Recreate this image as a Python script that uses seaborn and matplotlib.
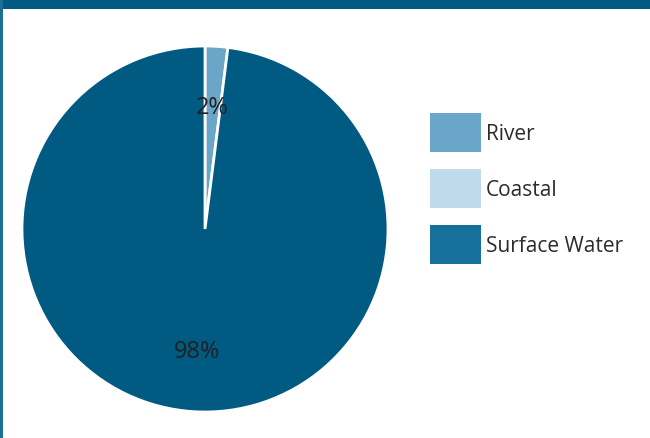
import matplotlib
matplotlib.use("Agg")
import matplotlib.pyplot as plt
from matplotlib.patches import Patch, Rectangle
import seaborn as sns

# Share of sites by water type
categories = ["River", "Coastal", "Surface Water"]
shares = [2, 0, 98]
pie_colors = ["#6aa6c7", "#bfdaea", "#005a82"]
legend_colors = ["#6aa6c7", "#bfdaea", "#17709c"]

sns.set_theme(style="white")
plt.rcParams["font.family"] = ["Open Sans", "DejaVu Sans"]

fig = plt.figure(figsize=(6.5, 4.39), dpi=100)
fig.patch.set_facecolor("white")

# Header band and left frame line
fig.add_artist(Rectangle((0, 1 - 10 / 439), 1, 10 / 439, transform=fig.transFigure,
                         facecolor="#005a82", edgecolor="none"))
fig.add_artist(Rectangle((0, 0), 2.5 / 650, 1, transform=fig.transFigure,
                         facecolor="#1a6e98", edgecolor="none"))

ax = fig.add_axes([22 / 650, 1 - 413 / 439, 366 / 650, 366 / 439])

# Only wedges with a non-zero share are drawn
vals = [v for v in shares if v > 0]
cols = [c for v, c in zip(shares, pie_colors) if v > 0]
wedges, texts, autotexts = ax.pie(
    vals, colors=cols, startangle=90, counterclock=False,
    autopct="%d%%", pctdistance=0.67, radius=1,
    wedgeprops=dict(edgecolor="white", linewidth=2),
    textprops=dict(fontsize=17, color="#231f20"),
)
ax.set_xlim(-1.0, 1.0)
ax.set_ylim(-1.0, 1.0)
ax.set_aspect("equal")
ax.axis("off")

handles = [Patch(facecolor=c, edgecolor="none") for c in legend_colors]
fig.legend(handles, categories, loc="upper left",
           bbox_to_anchor=(422 / 650, 1 - 106 / 439),
           frameon=False, fontsize=15, handlelength=2.45, handleheight=2.5,
           labelspacing=0.82, handletextpad=0.2, borderaxespad=0,
           labelcolor="#2e2a2b")

fig.savefig("out.png", dpi=100)
